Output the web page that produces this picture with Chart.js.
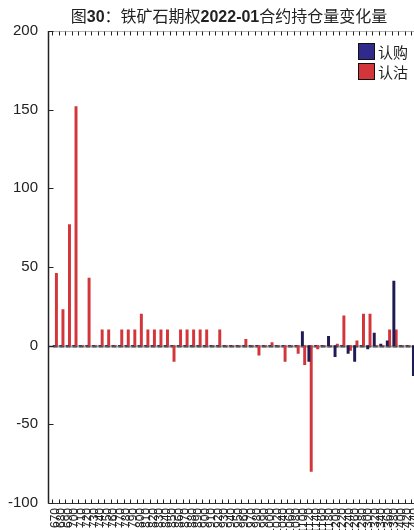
<!DOCTYPE html>
<html>
<head>
<meta charset="utf-8">
<script src="https://cdn.jsdelivr.net/npm/chart.js@4.4.1/dist/chart.umd.min.js"></script>
<style>
  html, body { margin: 0; padding: 0; background: #fff; overflow: hidden; width: 414px; height: 530px; }
  #wrap { position: relative; width: 434px; height: 530px; }
  #title {
    position: absolute; left: 0; top: 7px; width: 458px; text-align: center;
    font: 16px/20px "Liberation Sans", "Noto Sans CJK SC", sans-serif; color: #222;
  }
  #title b { font-weight: bold; }
  #legend { position: absolute; left: 358px; top: 41px; font: 15px "Noto Sans CJK SC", sans-serif; color: #222; }
  #legend div { display: flex; align-items: center; height: 20px; }
  #legend span.sw { width: 15px; height: 15px; border: 1px solid #111; margin-right: 3px; }
</style>
</head>
<body>
<div id="wrap">
  <canvas id="chart" width="434" height="530"></canvas>
  <div id="title">图<b>30</b>：铁矿石期权<b>2022-01</b>合约持仓量变化量</div>
  <div id="legend">
    <div><span class="sw" style="background:#302a8a"></span>认购</div>
    <div><span class="sw" style="background:#d3363a"></span>认沽</div>
  </div>
</div>
<script>
// strikes (category axis)
const strikes = [
  '670', '680', '690', '700', '710', '720', '730', '740', '750', '760',
  '770', '780', '790', '800', '810', '820', '830', '840', '850', '860',
  '870', '880', '890', '900', '910', '920', '930', '940', '950', '960',
  '970', '980', '990', '1000', '1020', '1040', '1060', '1080', '1100', '1120',
  '1140', '1160', '1180', '1200', '1220', '1240', '1260', '1280', '1300', '1320',
  '1340', '1360', '1380', '1400', '1420', '1440'
];

// 认购 open interest change
const callChange = [
  0, 0, 0, 0, 0, 0, 0, 0, 0, 0,
  0, 0, 0, 0, 0, 0, 0, 0, 0, 0,
  0, 0, 0, 0, 0, 0, 0, 0, 0, 0,
  0, 0, 0, 0, 0, 0, 0, 0, 9, -10,
  0, 0, 6, -7, 0, -5, -10, 0, -2, 8,
  1, 3, 41, 0, 0, -19
];

// 认沽 open interest change
const putChange = [
  46, 23, 77, 152, 0, 43, 0, 10, 10, 0,
  10, 10, 10, 20, 10, 10, 10, 10, -10, 10,
  10, 10, 10, 10, 0, 10, 0, 0, 0, 4,
  0, -6, 0, 2, 0, -10, 0, -5, -12, -80,
  -2, 0, 0, 1, 19, -3, 3, 20, 20, 0,
  0, 10, 10, 0, 0, 0
];

const yTicks = [-100, -50, 0, 50, 100, 150, 200];

const AXIS_X = 48.5;

// frame: left axis, top/bottom tick lines, zero line
const axisFrame = {
  id: 'axisFrame',
  beforeDatasetsDraw(chart) {
    const { ctx, chartArea: a, scales: { y } } = chart;
    const step = (a.right - a.left) / strikes.length;
    const y0 = Math.round(y.getPixelForValue(0)) + 0.5;
    ctx.save();
    ctx.strokeStyle = '#a0a0a0';
    ctx.lineWidth = 2;
    ctx.beginPath(); ctx.moveTo(AXIS_X, y0); ctx.lineTo(a.right, y0); ctx.stroke();
    ctx.strokeStyle = '#555';
    for (let k = 0; k < strikes.length; k++) {
      const x1 = a.left + k * step + 1;
      ctx.beginPath(); ctx.moveTo(x1, y0); ctx.lineTo(x1 + 4.5, y0); ctx.stroke();
    }
    ctx.restore();
  },
  afterDatasetsDraw(chart) {
    const { ctx, chartArea: a, scales: { y } } = chart;
    const step = (a.right - a.left) / strikes.length;
    const top = Math.round(a.top) + 0.5;
    const bot = Math.round(a.bottom) + 0.5;
    ctx.save();
    ctx.lineWidth = 1;
    // top line (light) + bottom line
    ctx.strokeStyle = '#b4b4b4';
    ctx.beginPath(); ctx.moveTo(AXIS_X, top); ctx.lineTo(a.right, top); ctx.stroke();
    ctx.strokeStyle = '#333';
    ctx.beginPath(); ctx.moveTo(AXIS_X, bot); ctx.lineTo(a.right, bot); ctx.stroke();
    // inward category ticks
    ctx.strokeStyle = '#222';
    for (let k = 0; k <= strikes.length; k++) {
      const xk = Math.round(a.left + k * step) + 0.5;
      ctx.beginPath(); ctx.moveTo(xk, top); ctx.lineTo(xk, top + 4); ctx.stroke();
      ctx.beginPath(); ctx.moveTo(xk, bot); ctx.lineTo(xk, bot - 4); ctx.stroke();
    }
    // left axis
    ctx.lineWidth = 1.5;
    ctx.beginPath(); ctx.moveTo(AXIS_X, a.top); ctx.lineTo(AXIS_X, a.bottom + 0.5); ctx.stroke();
    ctx.lineWidth = 1;
    yTicks.forEach(v => {
      const yy = Math.round(y.getPixelForValue(v)) + 0.5;
      ctx.beginPath(); ctx.moveTo(AXIS_X, yy); ctx.lineTo(AXIS_X + 5, yy); ctx.stroke();
    });
    ctx.restore();
  }
};

new Chart(document.getElementById('chart'), {
  type: 'bar',
  data: {
    labels: strikes,
    datasets: [
      { label: '认购', data: callChange, backgroundColor: '#1f1c55', categoryPercentage: 0.62, barPercentage: 1, barThickness: 2.3 },
      { label: '认沽', data: putChange, backgroundColor: '#d3363a', categoryPercentage: 0.62, barPercentage: 1, barThickness: 2.3 }
    ]
  },
  options: {
    responsive: false,
    animation: false,
    devicePixelRatio: 1,
    layout: { padding: { top: 31, left: 0, right: 0, bottom: 0 } },
    plugins: { legend: { display: false }, title: { display: false }, tooltip: { enabled: false } },
    scales: {
      x: {
        grid: { display: false, drawTicks: false },
        border: { display: false },
        ticks: {
          autoSkip: false, minRotation: 90, maxRotation: 90, padding: 5,
          color: '#222', font: { family: 'Liberation Sans', size: 12 }
        },
        afterFit: (s) => { s.height = 27; }
      },
      y: {
        min: -100, max: 200,
        grid: { display: false, drawTicks: false },
        border: { display: false },
        ticks: {
          stepSize: 50, padding: 14, color: '#222',
          font: { family: 'Liberation Sans', size: 15 }
        },
        afterFit: (s) => { s.width = 52; }
      }
    }
  },
  plugins: [axisFrame]
});
</script>
</body>
</html>
